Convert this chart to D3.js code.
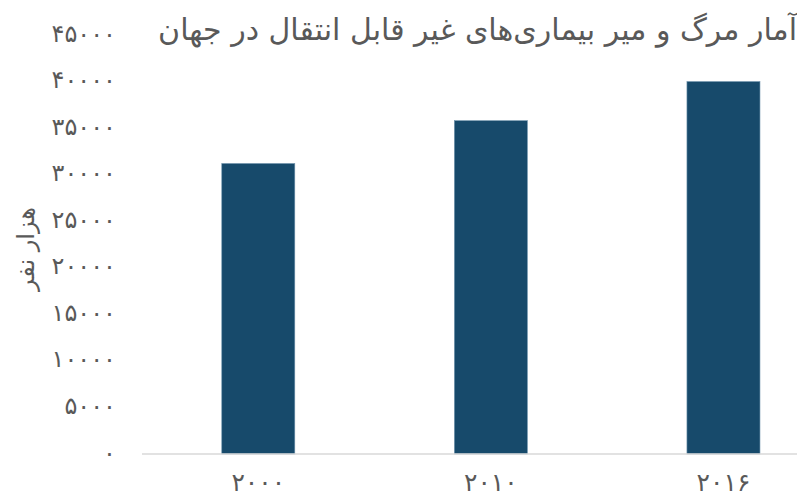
<!DOCTYPE html>
<html><head><meta charset="utf-8">
<script src="https://cdn.jsdelivr.net/npm/d3@7"></script>
<style>
html,body{margin:0;padding:0;background:#fff;}
svg{display:block;}
text{font-family:"DejaVu Sans","Noto Sans",sans-serif;fill:#595959;}
</style></head>
<body><svg id="c" width="797" height="499"></svg>
<script>
const title = "آمار مرگ و میر بیماری‌های غیر قابل انتقال در جهان";
const yAxisTitle = "هزار نفر";
const categories = ["۲۰۰۰", "۲۰۱۰", "۲۰۱۶"];
const values = [31200, 35800, 40000];
const yTickValues = [0, 5000, 10000, 15000, 20000, 25000, 30000, 35000, 40000, 45000];
const yTickLabels = ["۰", "۵۰۰۰", "۱۰۰۰۰", "۱۵۰۰۰", "۲۰۰۰۰", "۲۵۰۰۰", "۳۰۰۰۰", "۳۵۰۰۰", "۴۰۰۰۰", "۴۵۰۰۰"];

const svg = d3.select("#c");
const plotLeft = 142, plotRight = 839.75, plotTop = 35, plotBottom = 454;

const x = d3.scaleBand().domain(categories).range([plotLeft, plotRight])
  .paddingInner(0.686).paddingOuter(0.343);
const y = d3.scaleLinear().domain([0, 45000]).range([plotBottom, plotTop]);

// bars
svg.append("g").selectAll("rect").data(values).join("rect")
  .attr("x", (d, i) => x(categories[i]))
  .attr("y", d => y(d))
  .attr("width", x.bandwidth())
  .attr("height", d => y(0) - y(d))
  .attr("fill", "#174a6b")
  .attr("stroke", "#6f93ad").attr("stroke-width", 0.6);

// x axis
const xAxis = d3.axisBottom(x).tickSize(0).tickPadding(22);
const gx = svg.append("g").attr("transform", `translate(0,${plotBottom})`).call(xAxis);
gx.select(".domain").attr("stroke", "#d9d9d9").attr("stroke-width", 1.5)
  .attr("d", `M${plotLeft},0H797`);
gx.selectAll("text").attr("font-size", 25).attr("fill", "#595959")
  .attr("font-family", "DejaVu Sans").attr("dy", "0.6em");

// y axis
const yAxis = d3.axisLeft(y).tickValues(yTickValues)
  .tickFormat((d, i) => yTickLabels[i]).tickSize(0).tickPadding(0);
const gy = svg.append("g").attr("transform", `translate(116,0)`).call(yAxis);
gy.select(".domain").remove();
gy.selectAll("text").attr("font-size", 24).attr("fill", "#595959")
  .attr("font-family", "DejaVu Sans").attr("dy", "0.25em");

// y title
svg.append("text").attr("transform", "translate(34,249) rotate(-90)")
  .attr("text-anchor", "middle").attr("font-size", 24).text(yAxisTitle);

// title
svg.append("text").attr("x", 797).attr("y", 40).attr("text-anchor", "end")
  .attr("font-size", 30).text(title);
</script></body></html>
